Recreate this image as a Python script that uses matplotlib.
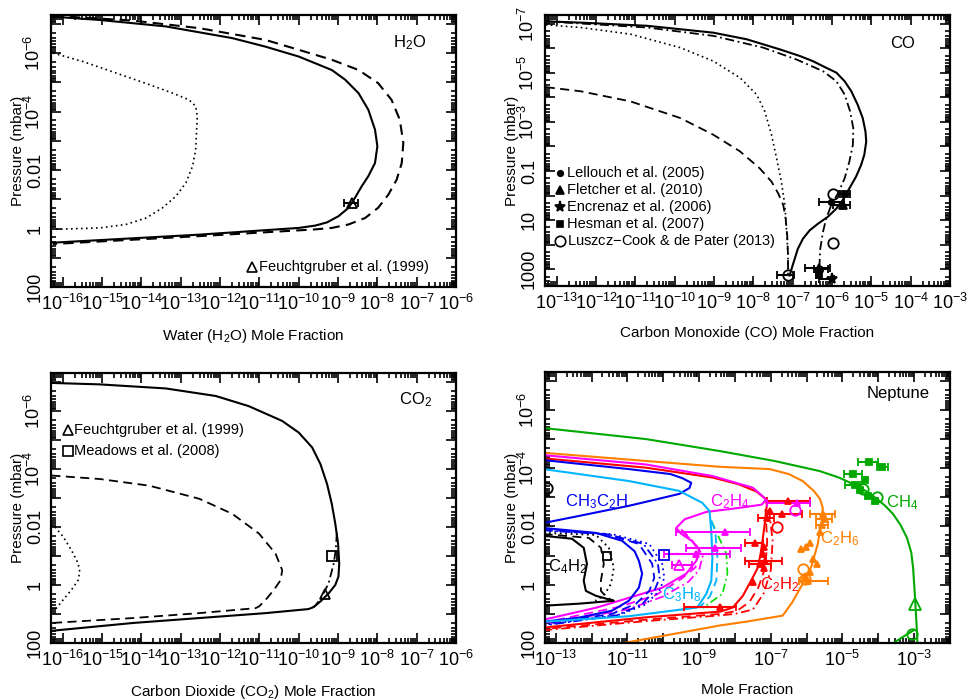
import numpy as np
import matplotlib
matplotlib.use('Agg')
import matplotlib.pyplot as plt
from matplotlib.ticker import LogLocator, FuncFormatter, NullFormatter

plt.rcParams['font.family'] = ['Liberation Sans', 'DejaVu Sans']
plt.rcParams['mathtext.fontset'] = 'custom'
plt.rcParams['mathtext.rm'] = 'Liberation Sans'
plt.rcParams['mathtext.it'] = 'Liberation Sans:italic'
plt.rcParams['mathtext.bf'] = 'Liberation Sans:bold'

# all curve values below are log10(mole fraction) and log10(pressure / mbar)

# ---------------- H2O ----------------
h2o_solid_x = [-16.33, -15.06, -13.38, -11.69, -10.85, -10.0, -9.58, -9.16, -8.82, -8.48, -8.23, -8.06, -8.0,
               -8.06, -8.23, -8.40, -8.57, -8.73, -8.99, -9.28, -9.58, -10.0, -12.53, -16.33]
h2o_solid_p = [-7.25, -7.13, -6.91, -6.51, -6.22, -5.88, -5.65, -5.42, -5.09, -4.63, -4.06, -3.38, -2.81,
               -2.24, -1.79, -1.44, -1.05, -0.71, -0.42, -0.21, -0.10, -0.02, 0.21, 0.49]
h2o_dash_x = [-16.25, -14.22, -12.53, -10.85, -10.0, -9.16, -8.48, -7.98, -7.64, -7.43, -7.34, -7.38, -7.51,
              -7.72, -7.98, -8.31, -8.73, -9.16, -9.58, -12.53, -16.25]
h2o_dash_p = [-7.27, -7.11, -6.85, -6.45, -6.11, -5.77, -5.42, -4.97, -4.40, -3.72, -2.93, -2.24, -1.67,
              -1.16, -0.71, -0.36, -0.14, -0.02, 0.03, 0.26, 0.53]
h2o_dot_x = [-16.25, -15.49, -14.65, -13.80, -13.21, -12.79, -12.62, -12.58, -12.60, -12.62, -12.70, -12.87,
             -13.12, -13.46, -13.88, -14.39, -15.06, -16.25]
h2o_dot_p = [-6.00, -5.71, -5.32, -4.92, -4.63, -4.40, -4.18, -3.84, -3.27, -2.70, -2.13, -1.56,
             -1.11, -0.71, -0.36, -0.14, -0.02, 0.03]
h2o_obs = [-8.65, -0.86, -8.86, -8.48]   # x, p, x_lo, x_hi

# ---------------- CO ----------------
co_solid_x = [-13.28, -12.39, -10.70, -9.02, -8.17, -7.33, -6.82, -6.49, -6.15, -5.89, -5.68, -5.51, -5.35, -5.22,
              -5.15, -5.13, -5.18, -5.26, -5.39, -5.56, -5.73, -5.89, -6.11, -6.36, -6.57, -6.74, -6.87, -6.95,
              -7.03, -7.08]
co_solid_p = [-7.10, -7.05, -6.92, -6.64, -6.37, -5.96, -5.69, -5.48, -5.21, -5.01, -4.66, -4.25, -3.71, -3.16,
              -2.61, -2.20, -1.66, -1.25, -0.77, -0.29, 0.19, 0.53, 0.87, 1.15, 1.42, 1.76, 2.17, 2.58,
              2.99, 3.26]
co_dd_x = [-13.28, -10.70, -9.02, -7.75, -6.91, -6.23, -5.89, -5.68, -5.54, -5.46, -5.47, -5.56, -5.68, -5.85,
           -6.02, -6.15, -6.23, -6.30, -6.32, -6.32]
co_dd_p = [-7.10, -6.85, -6.51, -6.03, -5.55, -5.07, -4.66, -4.12, -3.43, -2.75, -2.07, -1.38, -0.70, -0.09,
           0.39, 0.94, 1.48, 2.17, 2.85, 3.40]
co_dot_x = [-13.28, -12.39, -11.13, -9.86, -9.02, -8.34, -7.92, -7.71, -7.54, -7.41, -7.29, -7.20, -7.16, -7.12, -7.12]
co_dot_p = [-6.96, -6.85, -6.58, -6.03, -5.48, -4.80, -4.12, -3.43, -2.48, -1.52, -0.57, 0.39, 1.35, 2.44, 3.26]
co_dash_x = [-13.28, -12.39, -11.13, -9.86, -9.02, -8.34, -7.84, -7.54, -7.37, -7.24, -7.18, -7.14, -7.12, -7.12]
co_dash_p = [-4.42, -4.25, -3.84, -3.16, -2.48, -1.80, -1.11, -0.57, -0.09, 0.39, 0.94, 1.62, 2.44, 3.26]
# observations: x, p, x_lo, x_hi (nan = no error bar)
co_lellouch = [[-6.03, 0.25, -6.32, -5.69], [-6.30, 2.98, -6.45, -6.10]]
co_fletcher = [[-5.73, 0.39, -5.98, -5.55], [-6.32, 2.96, -6.70, -6.05]]
co_encrenaz = [[-6.00, 3.41, -6.34, -5.95]]
co_hesman = [[-5.68, -0.05, -5.80, -5.55], [-6.34, 3.25, -6.40, -6.28]]
co_luszcz = [[-5.98, -0.05, np.nan, np.nan], [-5.98, 1.92, np.nan, np.nan], [-7.12, 3.23, -7.40, -6.98]]

# ---------------- CO2 ----------------
co2_solid_x = [-16.29, -15.06, -13.38, -12.11, -11.27, -10.42, -10.0, -9.66, -9.45, -9.28, -9.16, -9.07, -9.00,
               -8.97, -8.99, -9.07, -9.24, -9.45, -9.62, -9.75, -10.84, -12.53, -14.22, -16.29]
co2_solid_p = [-6.96, -6.91, -6.77, -6.51, -6.16, -5.65, -5.25, -4.74, -4.17, -3.48, -2.80, -2.11, -1.43,
               -0.74, -0.29, 0.00, 0.29, 0.57, 0.76, 0.83, 0.97, 1.14, 1.31, 1.58]
co2_dd_x = [-9.03, -9.06, -9.11, -9.24, -9.41, -9.58, -9.72]
co2_dd_p = [-1.80, -1.20, -0.74, -0.06, 0.40, 0.72, 0.84]
co2_dash_x = [-16.29, -15.06, -13.80, -12.53, -11.69, -11.01, -10.59, -10.42, -10.46, -10.63, -10.84, -11.01,
              -11.10, -12.53, -14.22, -16.29]
co2_dash_p = [-3.77, -3.65, -3.42, -2.97, -2.45, -1.77, -1.08, -0.51, -0.17, 0.17, 0.51, 0.74,
              0.80, 0.97, 1.14, 1.31]
co2_dot_x = [-16.20, -15.99, -15.78, -15.61, -15.57, -15.61, -15.78, -15.99, -16.20]
co2_dot_p = [-2.00, -1.66, -1.20, -0.74, -0.46, -0.17, 0.17, 0.51, 0.86]
co2_feucht = [-9.33, 0.32]
co2_meadows = [-9.16, -1.00]

# ---------------- Neptune ----------------
ch4_x = [-13.34, -10.48, -8.43, -6.90, -5.63, -5.10, -4.71, -4.35, -4.04, -3.80, -3.59, -3.38, -3.20, -3.08,
         -3.03, -2.97, -2.92, -2.91]
ch4_p = [-5.38, -5.00, -4.59, -4.25, -3.90, -3.68, -3.46, -3.22, -2.95, -2.70, -2.43, -2.05, -1.61, -1.10,
         -0.58, 0.55, 1.68, 2.00]
ch4_low_x = [-3.58, -3.30, -3.00]
ch4_low_p = [2.00, 1.78, 1.55]
c2h6_x = [-13.34, -10.49, -8.43, -7.03, -6.50, -6.11, -5.80, -5.63, -5.55, -5.58, -5.69, -5.86, -6.14, -6.40,
          -6.67, -7.60, -8.43, -11.10]
c2h6_p = [-4.53, -4.25, -4.05, -3.97, -3.80, -3.56, -3.22, -2.95, -2.64, -2.19, -1.40, -0.65, 0.03, 0.60,
          1.06, 1.25, 1.40, 2.00]
c2h2_x = [-13.34, -10.49, -8.62, -7.90, -7.40, -7.15, -7.11, -7.17, -7.27, -7.36, -7.55, -7.78, -8.06, -8.40,
          -10.50, -13.34]
c2h2_p = [-4.34, -4.02, -3.68, -3.45, -3.20, -2.95, -2.75, -2.08, -1.16, -0.59, -0.14, 0.38, 0.78, 0.92,
          1.12, 1.47]
c2h2_dash_x = [-7.15, -7.10, -7.15, -7.35, -7.60, -7.95, -8.40, -10.50, -13.34]
c2h2_dash_p = [-2.60, -1.50, -0.60, 0.10, 0.60, 0.90, 1.00, 1.20, 1.52]
c2h2_dd_x = [-7.05, -6.95, -7.00, -7.20, -7.50, -8.00, -8.40, -10.50, -13.34]
c2h2_dd_p = [-2.60, -1.50, -0.50, 0.30, 0.85, 1.00, 1.05, 1.25, 1.56]
c2h4_x = [-13.34, -10.49, -8.62, -7.50, -7.13, -7.25, -8.00, -8.80, -9.40, -9.64, -9.50, -9.20, -9.00, -9.08,
          -9.36, -10.03, -10.96, -11.88, -13.34]
c2h4_p = [-4.45, -4.13, -3.73, -3.33, -2.93, -2.75, -2.62, -2.50, -2.25, -1.95, -1.75, -1.50, -1.20, -0.82,
          -0.38, 0.10, 0.45, 0.79, 1.20]
c2h4_dash_x = [-9.50, -9.25, -9.00, -9.10, -9.50, -10.20, -11.20, -13.34]
c2h4_dash_p = [-1.90, -1.60, -1.20, -0.60, -0.20, 0.35, 0.75, 1.30]
c2h4_dd_x = [-9.45, -9.10, -8.90, -9.00, -9.30, -10.00, -11.00, -13.34]
c2h4_dd_p = [-1.80, -1.40, -1.00, -0.50, -0.10, 0.40, 0.85, 1.35]
ch3c2h_up_x = [-13.34, -10.96, -9.80, -9.47, -9.22, -9.27, -9.55, -10.30, -10.96, -12.36, -13.34]
ch3c2h_up_p = [-4.28, -3.97, -3.80, -3.66, -3.50, -3.32, -3.12, -2.90, -2.71, -2.36, -2.12]
ch3c2h_x = [-13.34, -11.88, -11.15, -10.80, -10.68, -10.59, -10.68, -10.96, -11.43, -12.36, -13.34]
ch3c2h_p = [-1.95, -1.78, -1.51, -1.15, -0.82, -0.38, 0.10, 0.55, 0.89, 1.13, 1.27]
ch3c2h_dash_x = [-13.34, -11.60, -10.68, -10.31, -10.25, -10.39, -10.76, -11.43, -13.34]
ch3c2h_dash_p = [-1.90, -1.74, -1.40, -0.72, -0.24, 0.21, 0.65, 1.00, 1.34]
ch3c2h_dd_x = [-13.34, -11.50, -10.55, -10.15, -10.10, -10.25, -10.60, -11.30, -13.34]
ch3c2h_dd_p = [-1.87, -1.72, -1.40, -0.72, -0.24, 0.21, 0.68, 1.05, 1.40]
ch3c2h_dot_x = [-13.34, -11.43, -10.39, -10.03, -9.97, -10.11, -10.50, -11.20, -13.34]
ch3c2h_dot_p = [-1.85, -1.74, -1.40, -0.72, -0.24, 0.21, 0.68, 1.02, 1.38]
c3h8_x = [-13.34, -10.96, -9.55, -8.91, -8.71, -8.66, -8.63, -8.66, -8.80, -9.05, -10.96, -13.34]
c3h8_p = [-3.97, -3.56, -3.22, -2.81, -2.53, -1.85, -0.92, -0.14, 0.31, 0.78, 1.08, 1.27]
c3h8_dash_x = [-8.66, -8.55, -8.49, -8.52, -8.70, -9.00]
c3h8_dash_p = [-2.20, -1.85, -0.92, -0.14, 0.40, 0.80]
c3h8_dd_x = [-8.66, -8.55, -8.24, -8.21, -8.35, -8.90]
c3h8_dd_p = [-2.20, -1.90, -1.06, -0.38, 0.31, 0.80]
c4h2_x = [-13.34, -12.55, -12.22, -12.13, -12.22, -12.16, -11.88, -11.38, -12.36, -13.34]
c4h2_p = [-1.68, -1.58, -1.27, -0.72, -0.14, 0.21, 0.38, 0.55, 0.65, 0.72]
c4h2_dash_x = [-13.34, -12.08, -11.74, -11.66, -11.74, -11.74, -11.57, -11.38]
c4h2_dash_p = [-1.74, -1.61, -1.27, -0.72, -0.14, 0.21, 0.45, 0.55]
c4h2_dot_x = [-13.34, -11.88, -11.52, -11.38, -11.46, -11.66, -11.90]
c4h2_dot_p = [-1.78, -1.71, -1.27, -0.58, -0.03, 0.38, 0.55]

# Neptune observations: x, p, x_lo, x_hi
ch4_obs = [[-4.71, -3.80, -4.96, -4.46], [-4.26, -4.21, -4.57, -4.00], [-3.90, -4.04, -4.04, -3.73],
           [-4.37, -3.60, np.nan, np.nan], [-4.65, -3.42, -4.93, -4.51], [-4.51, -3.25, np.nan, np.nan],
           [-4.29, -3.05, np.nan, np.nan], [-4.09, -2.88, np.nan, np.nan]]
ch4_open = [[-4.04, -3.01], [-4.43, -3.29], [-3.06, 1.68]]
ch4_tri = [-2.97, 0.65]
c2h6_obs = [[-5.54, -2.44, -5.90, -5.20], [-5.50, -2.25, -5.75, -5.30], [-5.56, -2.05, -5.75, -5.40],
            [-5.62, -1.80, np.nan, np.nan], [-5.91, -1.45, np.nan, np.nan], [-6.15, -1.22, np.nan, np.nan],
            [-6.02, -1.30, np.nan, np.nan], [-5.82, -0.88, np.nan, np.nan], [-5.70, -0.70, np.nan, np.nan],
            [-5.96, -0.14, -6.20, -5.40], [-6.05, -0.30, np.nan, np.nan], [-5.90, -0.45, np.nan, np.nan]]
c2h6_open = [[-6.10, -0.54], [-6.05, -0.20]]
c2h2_obs = [[-6.53, -2.88, -7.12, -5.91], [-6.70, -2.43, -7.12, -6.14], [-7.03, -2.53, np.nan, np.nan],
            [-7.12, -2.29, -7.35, -6.90], [-7.45, -1.44, -7.73, -7.23], [-7.23, -1.06, np.nan, np.nan],
            [-7.15, -0.80, -7.73, -6.70], [-7.30, -0.70, -7.60, -7.00], [-7.20, -0.58, np.nan, np.nan],
            [-7.50, -0.10, np.nan, np.nan], [-8.43, 0.78, -9.41, -7.96], [-7.20, -1.30, np.nan, np.nan]]
c2h2_open = [[-6.84, -1.99]]
c2h4_obs = [[-8.29, -1.82, -9.64, -7.59], [-8.57, -1.27, -9.36, -7.82], [-9.08, -1.06, -9.97, -8.15],
            [-6.28, -2.81, -7.12, -5.91]]
c2h4_open = [[-6.33, -2.57]]
c2h4_tri = [-9.55, -0.68, -9.75, -9.19]
ch3c2h_sq = [-9.97, -1.03]
c4h2_sq = [-11.57, -0.99]
c4h2_circ = [-13.25, -3.33]

GREEN = '#00a800'
ORANGE = '#ff8000'
RED = '#ff0000'
MAGENTA = '#ff00ff'
BLUE = '#0000ee'
CYAN = '#00b4ff'

DASH = (0, (5, 3))
DOT = (0, (1, 2))
DDOT = (0, (5, 2, 1, 2))


def line(ax, lx, lp, color='k', ls='-', lw=1.5):
    ax.plot(10.0 ** np.asarray(lx), 10.0 ** np.asarray(lp), color=color, ls=ls, lw=lw)


def obs(ax, rows, marker, color, ms=5, filled=True):
    for r in rows:
        x, p = 10.0 ** r[0], 10.0 ** r[1]
        xerr = None
        if len(r) > 2 and not np.isnan(r[2]):
            xerr = [[x - 10.0 ** r[2]], [10.0 ** r[3] - x]]
        ax.errorbar([x], [p], xerr=xerr, fmt=marker, color=color, ms=ms,
                    mfc=color if filled else 'none', mec=color, mew=1.3,
                    elinewidth=1.5, capsize=3, capthick=1.5, zorder=5)


def dec_fmt(keep):
    plain = {-2: '0.01', -1: '0.1', 0: '1', 1: '10', 2: '100', 3: '1000'}

    def f(v, pos):
        e = int(round(np.log10(v)))
        if not keep(e):
            return ''
        if e in plain:
            return plain[e]
        return r'$10^{%d}$' % e
    return FuncFormatter(f)


def style(ax, xlim, ylim, xkeep, ykeep, xlabel):
    ax.set_xscale('log')
    ax.set_yscale('log')
    ax.set_xlim(*xlim)
    ax.set_ylim(ylim[1], ylim[0])
    for a, keep in ((ax.xaxis, xkeep), (ax.yaxis, ykeep)):
        a.set_major_locator(LogLocator(base=10, numticks=100))
        a.set_minor_locator(LogLocator(base=10, subs=np.arange(2, 10), numticks=100))
        a.set_major_formatter(dec_fmt(keep))
        a.set_minor_formatter(NullFormatter())
    ax.tick_params(which='both', direction='in', top=True, right=True, width=1.2)
    ax.tick_params(which='major', length=7, labelsize=13, pad=5)
    ax.tick_params(which='minor', length=3.5)
    ax.tick_params(axis='y', labelrotation=90)
    for t in ax.yaxis.get_major_ticks():
        t.label1.set_va('center')
    for s in ax.spines.values():
        s.set_linewidth(1.6)
    ax.set_xlabel(xlabel, fontsize=11, labelpad=9)
    ax.set_ylabel('Pressure (mbar)', fontsize=11, labelpad=-1)


fig = plt.figure(figsize=(9.69, 7.0), dpi=100)
ax1 = fig.add_axes([0.0526, 0.590, 0.418, 0.3886])
ax2 = fig.add_axes([0.5624, 0.591, 0.418, 0.3871])
ax3 = fig.add_axes([0.0526, 0.0814, 0.418, 0.3857])
ax4 = fig.add_axes([0.5624, 0.0814, 0.418, 0.3871])

# ---- H2O panel ----
line(ax1, h2o_solid_x, h2o_solid_p)
line(ax1, h2o_dash_x, h2o_dash_p, ls=DASH)
line(ax1, h2o_dot_x, h2o_dot_p, ls=DOT, lw=1.2)
obs(ax1, [h2o_obs], '^', 'k', ms=7, filled=False)
style(ax1, (5e-17, 1e-6), (5e-8, 100), lambda e: True, lambda e: e % 2 == 0,
      'Water (H$_2$O) Mole Fraction')
ax1.text(0.886, 0.897, 'H$_2$O', transform=ax1.transAxes, fontsize=12, ha='center', va='center')
ax1.plot([0.496], [0.074], '^', transform=ax1.transAxes, mfc='none', mec='k', ms=7, mew=1.2)
ax1.text(0.514, 0.074, 'Feuchtgruber et al. (1999)', transform=ax1.transAxes, fontsize=10.5, va='center')

# ---- CO panel ----
line(ax2, co_solid_x, co_solid_p)
line(ax2, co_dd_x, co_dd_p, ls=DDOT, lw=1.3)
line(ax2, co_dot_x, co_dot_p, ls=DOT, lw=1.2)
line(ax2, co_dash_x, co_dash_p, ls=DASH, lw=1.3)
obs(ax2, co_lellouch, 'o', 'k', ms=4)
obs(ax2, co_fletcher, '^', 'k', ms=6)
obs(ax2, co_encrenaz, '*', 'k', ms=8)
obs(ax2, co_hesman, 's', 'k', ms=4.5)
obs(ax2, co_luszcz, 'o', 'k', ms=7.5, filled=False)
style(ax2, (5e-14, 1e-3), (4.5e-8, 5e3), lambda e: True, lambda e: e % 2 != 0,
      'Carbon Monoxide (CO) Mole Fraction')
ax2.text(0.884, 0.897, 'CO', transform=ax2.transAxes, fontsize=12, ha='center', va='center')
leg_co = [('o', 4, True, 'Lellouch et al. (2005)'), ('^', 6, True, 'Fletcher et al. (2010)'),
          ('*', 8, True, 'Encrenaz et al. (2006)'), ('s', 4.5, True, 'Hesman et al. (2007)'),
          ('o', 7.5, False, 'Luszcz$-$Cook & de Pater (2013)')]
for i, (m, ms, fill, lab) in enumerate(leg_co):
    yy = 0.417 - i * 0.0627
    ax2.plot([0.037], [yy], m, transform=ax2.transAxes, ms=ms, mfc='k' if fill else 'none', mec='k', mew=1.2)
    ax2.text(0.055, yy, lab, transform=ax2.transAxes, fontsize=10.5, va='center')

# ---- CO2 panel ----
line(ax3, co2_solid_x, co2_solid_p)
line(ax3, co2_dd_x, co2_dd_p, ls=DDOT, lw=1.3)
line(ax3, co2_dash_x, co2_dash_p, ls=DASH, lw=1.3)
line(ax3, co2_dot_x, co2_dot_p, ls=DOT, lw=1.2)
obs(ax3, [co2_feucht], '^', 'k', ms=7, filled=False)
obs(ax3, [co2_meadows], 's', 'k', ms=7, filled=False)
style(ax3, (5e-17, 1e-6), (5e-8, 100), lambda e: True, lambda e: e % 2 == 0,
      'Carbon Dioxide (CO$_2$) Mole Fraction')
ax3.text(0.899, 0.9, 'CO$_2$', transform=ax3.transAxes, fontsize=12, ha='center', va='center')
ax3.plot([0.042], [0.789], '^', transform=ax3.transAxes, mfc='none', mec='k', ms=7, mew=1.2)
ax3.text(0.058, 0.789, 'Feuchtgruber et al. (1999)', transform=ax3.transAxes, fontsize=10.5, va='center')
ax3.plot([0.042], [0.711], 's', transform=ax3.transAxes, mfc='none', mec='k', ms=7, mew=1.2)
ax3.text(0.058, 0.711, 'Meadows et al. (2008)', transform=ax3.transAxes, fontsize=10.5, va='center')

# ---- Neptune panel ----
line(ax4, ch4_x, ch4_p, GREEN)
line(ax4, ch4_low_x, ch4_low_p, GREEN)
line(ax4, c2h6_x, c2h6_p, ORANGE)
line(ax4, c2h2_dd_x, c2h2_dd_p, RED, DDOT, 1.3)
line(ax4, c2h2_dash_x, c2h2_dash_p, RED, DASH, 1.3)
line(ax4, c2h2_x, c2h2_p, RED)
line(ax4, c2h4_dd_x, c2h4_dd_p, MAGENTA, DDOT, 1.3)
line(ax4, c2h4_dash_x, c2h4_dash_p, MAGENTA, DASH, 1.3)
line(ax4, c2h4_x, c2h4_p, MAGENTA)
line(ax4, ch3c2h_up_x, ch3c2h_up_p, BLUE)
line(ax4, ch3c2h_dot_x, ch3c2h_dot_p, BLUE, DOT, 1.3)
line(ax4, ch3c2h_dd_x, ch3c2h_dd_p, BLUE, DDOT, 1.3)
line(ax4, ch3c2h_dash_x, ch3c2h_dash_p, BLUE, DASH, 1.3)
line(ax4, ch3c2h_x, ch3c2h_p, BLUE)
line(ax4, c3h8_dd_x, c3h8_dd_p, '#00dd00', DDOT, 1.2)
line(ax4, c3h8_dash_x, c3h8_dash_p, CYAN, DASH, 1.3)
line(ax4, c3h8_x, c3h8_p, CYAN)
line(ax4, c4h2_dot_x, c4h2_dot_p, 'k', DOT, 1.3)
line(ax4, c4h2_dash_x, c4h2_dash_p, 'k', DASH, 1.3)
line(ax4, c4h2_x, c4h2_p, 'k')

obs(ax4, ch4_obs, 's', GREEN, ms=4)
obs(ax4, [r + [np.nan, np.nan] for r in ch4_open], 'o', GREEN, ms=7.5, filled=False)
obs(ax4, [ch4_tri], '^', GREEN, ms=8, filled=False)
obs(ax4, c2h6_obs, '^', ORANGE, ms=5)
obs(ax4, [r + [np.nan, np.nan] for r in c2h6_open], 'o', ORANGE, ms=7.5, filled=False)
obs(ax4, c2h2_obs, '^', RED, ms=5)
obs(ax4, [r + [np.nan, np.nan] for r in c2h2_open], 'o', RED, ms=7.5, filled=False)
obs(ax4, c2h4_obs, '^', MAGENTA, ms=5)
obs(ax4, [r + [np.nan, np.nan] for r in c2h4_open], 'o', MAGENTA, ms=7.5, filled=False)
obs(ax4, [c2h4_tri], '^', MAGENTA, ms=7, filled=False)
obs(ax4, [ch3c2h_sq], 's', BLUE, ms=7, filled=False)
obs(ax4, [c4h2_sq], 's', 'k', ms=6, filled=False)
obs(ax4, [c4h2_circ], 'o', 'k', ms=7.5, filled=False)

style(ax4, (5e-14, 1e-2), (5e-8, 100), lambda e: e % 2 != 0, lambda e: e % 2 == 0, 'Mole Fraction')
ax4.text(0.872, 0.922, 'Neptune', transform=ax4.transAxes, fontsize=12, ha='center', va='center')
species_lab = [('CH$_3$C$_2$H', 0.128, 0.52, BLUE), ('C$_2$H$_4$', 0.457, 0.52, MAGENTA),
               ('CH$_4$', 0.881, 0.517, GREEN), ('C$_2$H$_6$', 0.728, 0.387, ORANGE),
               ('C$_4$H$_2$', 0.057, 0.28, 'k'), ('C$_3$H$_8$', 0.338, 0.177, CYAN),
               ('C$_2$H$_2$', 0.58, 0.214, RED)]
for lab, xx, yy, c in species_lab:
    ax4.text(xx, yy, lab, transform=ax4.transAxes, fontsize=12, color=c, ha='center', va='center')

fig.savefig('out.png', dpi=100)
